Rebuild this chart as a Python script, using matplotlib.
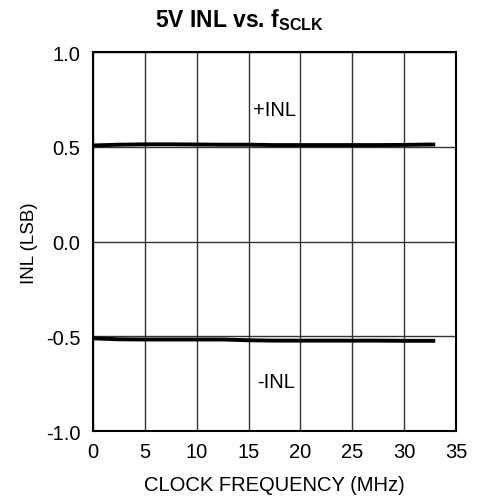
import matplotlib.pyplot as plt

plt.rcParams['font.family'] = ['Liberation Sans', 'DejaVu Sans']
plt.rcParams['mathtext.fontset'] = 'custom'
plt.rcParams['mathtext.rm'] = 'Liberation Sans:bold'
plt.rcParams['mathtext.bf'] = 'Liberation Sans:bold'

# clock frequency (MHz) and measured INL (LSB)
freq = [0, 2.5, 5, 7.5, 10, 12.5, 15, 17.5, 20, 22.5, 25, 27.5, 30, 32.5, 33]
inl_pos = [0.508, 0.512, 0.514, 0.514, 0.513, 0.512, 0.512, 0.510, 0.510,
           0.510, 0.510, 0.510, 0.511, 0.513, 0.513]
inl_neg = [-0.510, -0.515, -0.516, -0.516, -0.516, -0.516, -0.520, -0.522, -0.522,
           -0.522, -0.522, -0.522, -0.523, -0.523, -0.523]

xticks = [0, 5, 10, 15, 20, 25, 30, 35]
yticks = [-1.0, -0.5, 0.0, 0.5, 1.0]

fig = plt.figure(figsize=(4.8, 5.02), dpi=100)
ax = fig.add_axes([0.194, 0.139, 0.756, 0.755])

ax.plot(freq, inl_pos, color='black', lw=2.8, solid_capstyle='butt')
ax.plot(freq, inl_neg, color='black', lw=2.8, solid_capstyle='butt')

ax.set_xlim(0, 35)
ax.set_ylim(-1, 1)
ax.set_xticks(xticks)
ax.set_yticks(yticks)
ax.set_xticklabels([str(t) for t in xticks])
ax.set_yticklabels([f'{t:.1f}' for t in yticks])
ax.grid(True, color='#333333', lw=1.0)
ax.tick_params(axis='both', length=0, labelsize=14.5, colors='black')
ax.tick_params(axis='x', pad=8)
ax.tick_params(axis='y', pad=9)
for s in ax.spines.values():
    s.set_linewidth(1.5)
    s.set_color('black')

ax.text(15.4, 0.697, '+INL', fontsize=14.5, va='center')
ax.text(15.8, -0.737, '-INL', fontsize=14.5, va='center')

ax.set_xlabel('CLOCK FREQUENCY (MHz)', fontsize=14.5, labelpad=10)
ax.set_ylabel('INL (LSB)', fontsize=13.5, labelpad=6)
fig.text(0.5, 0.946, r'5V INL vs. f$_{\mathbf{SCLK}}$', ha='center', va='baseline',
         fontsize=16.5, fontweight='bold')

fig.savefig('out.png', dpi=100)
